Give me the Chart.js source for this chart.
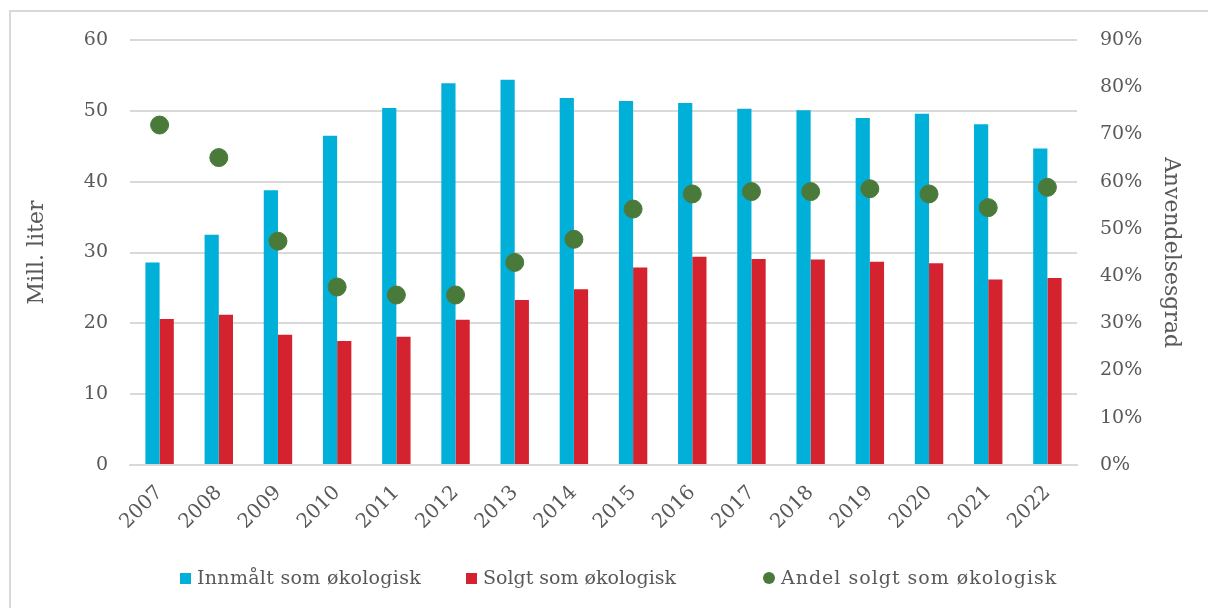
<!DOCTYPE html>
<html>
<head>
<meta charset="utf-8">
<script src="https://cdn.jsdelivr.net/npm/chart.js@4"></script>
<style>
  html, body { margin: 0; padding: 0; background: #fff; }
  #wrap { position: relative; width: 1208px; height: 608px; overflow: hidden; }
  #frame { position: absolute; left: 9px; top: 10px; width: 1400px; height: 800px;
           border-left: 2px solid #d9d9d9; border-top: 2px solid #d9d9d9; box-sizing: border-box; }
  canvas { position: absolute; left: 0; top: 0; }
  .leg { position: absolute; top: 564px; font-family: "DejaVu Serif", serif; font-size: 19px; color: #595959;
         white-space: nowrap; line-height: 26px; }
  .sw { display: inline-block; width: 11px; height: 11px; margin-right: 6px; vertical-align: 0px; }
  .dot { border-radius: 50%; width: 12px; height: 12px; }
</style>
</head>
<body>
<div id="wrap">
  <div id="frame"></div>
  <canvas id="c" width="1208" height="608"></canvas>
  <div class="leg" style="left:180px; letter-spacing:0.3px"><span class="sw" style="background:#00b0d8"></span>Innmålt som økologisk</div>
  <div class="leg" style="left:466px"><span class="sw" style="background:#d4232f"></span>Solgt som økologisk</div>
  <div class="leg" style="left:763px; letter-spacing:1px"><span class="sw dot" style="background:#4a7a3a"></span>Andel solgt som økologisk</div>
</div>
<script>
const years = ["2007","2008","2009","2010","2011","2012","2013","2014","2015","2016","2017","2018","2019","2020","2021","2022"];
const innmalt = [28.6, 32.5, 38.8, 46.5, 50.4, 53.9, 54.4, 51.8, 51.4, 51.1, 50.3, 50.1, 49.0, 49.6, 48.1, 44.7];
const solgt = [20.6, 21.2, 18.4, 17.5, 18.1, 20.5, 23.3, 24.8, 27.9, 29.4, 29.1, 29.0, 28.7, 28.5, 26.2, 26.4];
const andel = [72.0, 65.1, 47.4, 37.7, 36.0, 36.0, 42.9, 47.8, 54.2, 57.4, 57.9, 57.9, 58.5, 57.4, 54.5, 58.8];
const leftTicks = [0, 10, 20, 30, 40, 50, 60];
const rightTicks = [0, 10, 20, 30, 40, 50, 60, 70, 80, 90];

const txt = '#595959';
const fontFam = '"DejaVu Serif", serif';

new Chart(document.getElementById('c'), {
  data: {
    labels: years,
    datasets: [
      { type: 'line', label: 'Andel solgt som økologisk', data: andel, yAxisID: 'y2',
        showLine: false, pointRadius: 9, pointHoverRadius: 9, pointBackgroundColor: '#4a7a3a',
        pointBorderColor: '#4a7a3a', borderColor: '#4a7a3a', backgroundColor: '#4a7a3a', order: 0 },
      { type: 'bar', label: 'Innmålt som økologisk', data: innmalt, yAxisID: 'y',
        backgroundColor: '#00b0d8', categoryPercentage: 0.48, barPercentage: 1.0, order: 1 },
      { type: 'bar', label: 'Solgt som økologisk', data: solgt, yAxisID: 'y',
        backgroundColor: '#d4232f', categoryPercentage: 0.48, barPercentage: 1.0, order: 1 }
    ]
  },
  options: {
    responsive: false,
    devicePixelRatio: 1,
    animation: false,
    layout: { padding: { top: 40, bottom: 60, left: 0, right: 0 } },
    plugins: { legend: { display: false }, tooltip: { enabled: false } },
    scales: {
      x: {
        offset: true,
        grid: { display: false, drawTicks: false },
        border: { display: true, color: '#d9d9d9', width: 2 },
        ticks: { color: txt, font: { family: fontFam, size: 20 }, minRotation: 45, maxRotation: 45, padding: 16, autoSkip: false },
        afterFit: s => { s.height = 83; }
      },
      y: {
        position: 'left', min: 0, max: 60,
        afterBuildTicks: s => { s.ticks = leftTicks.map(v => ({ value: v })); },
        grid: { color: '#d9d9d9', lineWidth: 2, drawTicks: false },
        border: { display: false },
        ticks: { color: txt, font: { family: fontFam, size: 19 }, padding: 22 },
        title: { display: true, text: 'Mill. liter', color: txt, font: { family: fontFam, size: 22 }, padding: { top: 24, bottom: 0 } },
        afterFit: s => { s.width = 130; }
      },
      y2: {
        position: 'right', min: 0, max: 90,
        afterBuildTicks: s => { s.ticks = rightTicks.map(v => ({ value: v })); },
        grid: { display: false, drawTicks: false },
        border: { display: false },
        ticks: { color: txt, font: { family: fontFam, size: 19 }, padding: 23, callback: v => v + '%' },
        title: { display: true, text: 'Anvendelsesgrad', color: txt, font: { family: fontFam, size: 22 }, padding: { top: 24, bottom: 0 } },
        afterFit: s => { s.width = 131; }
      }
    }
  }
});
</script>
</body>
</html>
